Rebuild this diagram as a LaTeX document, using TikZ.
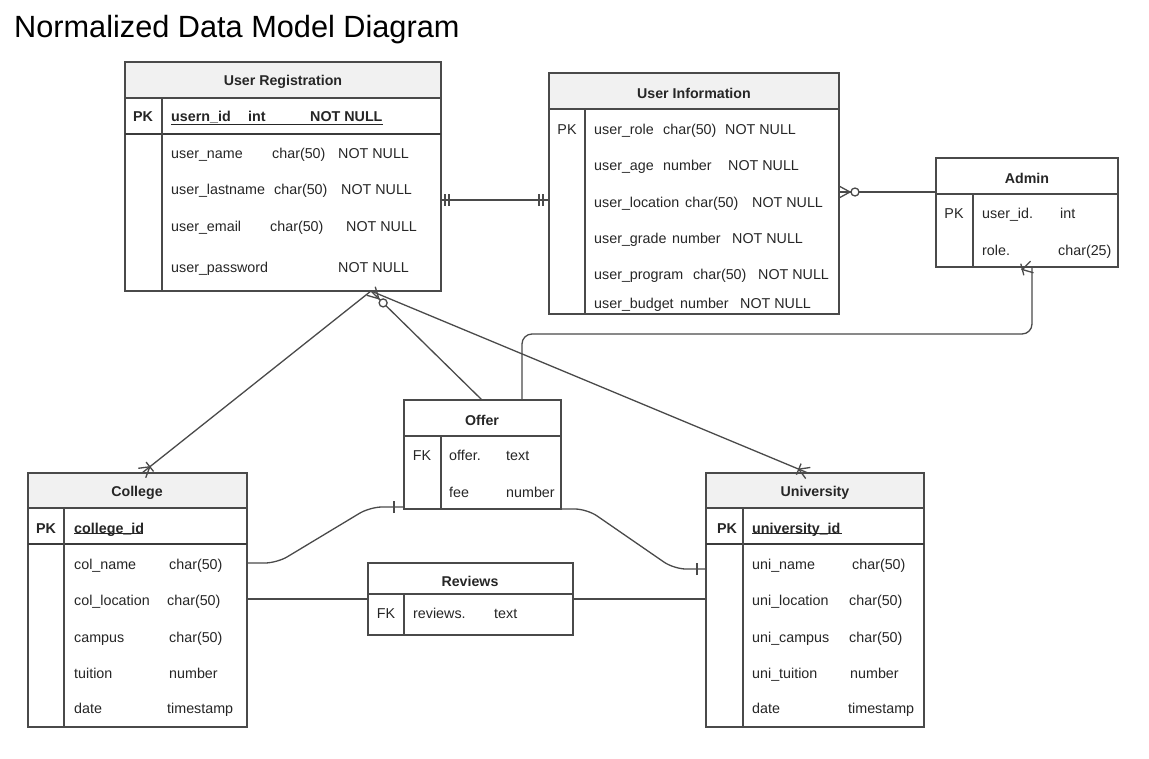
\documentclass[tikz,border=0pt]{standalone}
\usepackage{fontspec}
\setmainfont{Liberation Sans}
\usetikzlibrary{calc}
\definecolor{ln}{HTML}{4A4A4A}
\definecolor{hd}{HTML}{F1F1F1}
\definecolor{tx}{HTML}{262626}
\tikzset{
 tline/.style={draw=ln, line width=1.2pt},
 pkline/.style={draw=ln!80!black, line width=1.8pt},
 box/.style={draw=ln, line width=1.3pt, anchor=north west, inner sep=0pt, outer sep=0pt},
 conn/.style={draw=ln, line width=1.3pt},
 fld/.style={anchor=mid west, inner sep=0pt, yshift=-2.5pt, text=tx, font=\fontsize{14.3}{16}\selectfont},
 fldb/.style={fld, font=\fontsize{14.3}{16}\selectfont\bfseries},
 pkc/.style={anchor=mid, inner sep=0pt, yshift=-2.5pt, text=tx, font=\fontsize{14.3}{16}\selectfont},
 pkcb/.style={pkc, font=\fontsize{14.3}{16}\selectfont\bfseries},
 ttl/.style={inner sep=0pt, yshift=-2pt, text=tx, font=\fontsize{14.2}{16}\selectfont\bfseries},
 uline/.style={draw=tx, line width=0.8pt},
}
\newcommand{\crowm}[3]{%
 \coordinate (cfP) at ($(#1)!#3!(#2)$);
 \draw[conn] ($(#1)!6pt!90:(#2)$) -- (cfP) -- ($(#1)!6pt!-90:(#2)$);
}
\newcommand{\barm}[3]{%
 \coordinate (bmP) at ($(#1)!#3!(#2)$);
 \draw[conn] ($(bmP)!6pt!90:(#2)$) -- ($(bmP)!6pt!-90:(#2)$);
}
\newcommand{\circm}[3]{\draw[conn, fill=white] ($(#1)!#3!(#2)$) circle (4pt);}
\begin{document}
\begin{tikzpicture}[x=1pt,y=-1pt]
\fill[white] (0,0) rectangle (1149,758);
\useasboundingbox (0,0) rectangle (1149,758);

\node[anchor=base west, inner sep=0pt, font=\fontsize{30.7}{34}\selectfont] (title) at (14,37) {Normalized Data Model Diagram};

% ---------- User Registration ----------
\fill[hd] (125,62) rectangle (441,98);
\node[box, minimum width=316pt, minimum height=229pt] (ur) at (125,62) {};
\draw[tline] (125,98) -- (441,98);
\draw[pkline] (125,134) -- (441,134);
\draw[tline] (162,98) -- (162,291);
\node[ttl] (ur-h) at (283,80) {User Registration};
\node[pkcb] (ur-pk) at (143,116) {PK};
\node[fldb] (ur-k1) at (171,116) {usern\_id};
\node[fldb] (ur-k2) at (248,116) {int};
\node[fldb] (ur-k3) at (310,116) {NOT NULL};
\draw[uline] (171,124) -- (383,124);
\node[fld] (ur-a1) at (171,153) {user\_name};
\node[fld] (ur-a2) at (272,153) {char(50)};
\node[fld] (ur-a3) at (338,153) {NOT NULL};
\node[fld] (ur-b1) at (171,189) {user\_lastname};
\node[fld] (ur-b2) at (274,189) {char(50)};
\node[fld] (ur-b3) at (341,189) {NOT NULL};
\node[fld] (ur-c1) at (171,226) {user\_email};
\node[fld] (ur-c2) at (270,226) {char(50)};
\node[fld] (ur-c3) at (346,226) {NOT NULL};
\node[fld] (ur-d1) at (171,267) {user\_password};
\node[fld] (ur-d3) at (338,267) {NOT NULL};

% ---------- User Information ----------
\fill[hd] (549,73) rectangle (839,109);
\node[box, minimum width=290pt, minimum height=241pt] (ui) at (549,73) {};
\draw[tline] (549,109) -- (839,109);
\draw[tline] (585,109) -- (585,314);
\node[ttl] (ui-h) at (694,91) {User Information};
\node[pkc] (ui-pk) at (567,129) {PK};
\node[fld] (ui-a1) at (594,129) {user\_role};
\node[fld] (ui-a2) at (663,129) {char(50)};
\node[fld] (ui-a3) at (725,129) {NOT NULL};
\node[fld] (ui-b1) at (594,165) {user\_age};
\node[fld] (ui-b2) at (663,165) {number};
\node[fld] (ui-b3) at (728,165) {NOT NULL};
\node[fld] (ui-c1) at (594,202) {user\_location};
\node[fld] (ui-c2) at (685,202) {char(50)};
\node[fld] (ui-c3) at (752,202) {NOT NULL};
\node[fld] (ui-d1) at (594,238) {user\_grade};
\node[fld] (ui-d2) at (672,238) {number};
\node[fld] (ui-d3) at (732,238) {NOT NULL};
\node[fld] (ui-e1) at (594,274) {user\_program};
\node[fld] (ui-e2) at (693,274) {char(50)};
\node[fld] (ui-e3) at (758,274) {NOT NULL};
\node[fld] (ui-f1) at (594,303) {user\_budget};
\node[fld] (ui-f2) at (680,303) {number};
\node[fld] (ui-f3) at (740,303) {NOT NULL};

% ---------- Admin ----------
\node[box, minimum width=182pt, minimum height=109pt] (adm) at (936,158) {};
\draw[tline] (936,194) -- (1118,194);
\draw[tline] (973,194) -- (973,267);
\node[ttl] (adm-h) at (1027,176) {Admin};
\node[pkc] (adm-pk) at (954,213) {PK};
\node[fld] (adm-a1) at (982,213) {user\_id.};
\node[fld] (adm-a2) at (1060,213) {int};
\node[fld] (adm-b1) at (982,250) {role.};
\node[fld] (adm-b2) at (1058,250) {char(25)};

% ---------- Offer ----------
\node[box, minimum width=157pt, minimum height=109pt] (off) at (404,400) {};
\draw[tline] (404,436) -- (561,436);
\draw[tline] (441,436) -- (441,509);
\node[ttl] (off-h) at (482,418) {Offer};
\node[pkc] (off-fk) at (422,455) {FK};
\node[fld] (off-a1) at (449,455) {offer.};
\node[fld] (off-a2) at (506,455) {text};
\node[fld] (off-b1) at (449,492) {fee};
\node[fld] (off-b2) at (506,492) {number};

% ---------- Reviews ----------
\node[box, minimum width=205pt, minimum height=72pt] (rev) at (368,563) {};
\draw[tline] (368,594) -- (573,594);
\draw[tline] (404,594) -- (404,635);
\node[ttl] (rev-h) at (470,579) {Reviews};
\node[pkc] (rev-fk) at (386,613) {FK};
\node[fld] (rev-a1) at (413,613) {reviews.};
\node[fld] (rev-a2) at (494,613) {text};

% ---------- College ----------
\fill[hd] (28,473) rectangle (247,508);
\node[box, minimum width=219pt, minimum height=254pt] (col) at (28,473) {};
\draw[tline] (28,508) -- (247,508);
\draw[pkline] (28,544) -- (247,544);
\draw[tline] (64,508) -- (64,727);
\node[ttl] (col-h) at (137,491) {College};
\node[pkcb] (col-pk) at (46,528) {PK};
\node[fldb] (col-k) at (74,528) {college\_id};
\draw[uline] (74,533) -- (143,533);
\node[fld] (col-a1) at (74,564) {col\_name};
\node[fld] (col-a2) at (169,564) {char(50)};
\node[fld] (col-b1) at (74,600) {col\_location};
\node[fld] (col-b2) at (167,600) {char(50)};
\node[fld] (col-c1) at (74,637) {campus};
\node[fld] (col-c2) at (169,637) {char(50)};
\node[fld] (col-d1) at (74,673) {tuition};
\node[fld] (col-d2) at (169,673) {number};
\node[fld] (col-e1) at (74,708) {date};
\node[fld] (col-e2) at (167,708) {timestamp};

% ---------- University ----------
\fill[hd] (706,473) rectangle (924,508);
\node[box, minimum width=218pt, minimum height=254pt] (uni) at (706,473) {};
\draw[tline] (706,508) -- (924,508);
\draw[pkline] (706,544) -- (924,544);
\draw[tline] (743,508) -- (743,727);
\node[ttl] (uni-h) at (815,491) {University};
\node[pkcb] (uni-pk) at (727,528) {PK};
\node[fldb] (uni-k) at (752,528) {university\_id};
\draw[uline] (752,533) -- (842,533);
\node[fld] (uni-a1) at (752,564) {uni\_name};
\node[fld] (uni-a2) at (852,564) {char(50)};
\node[fld] (uni-b1) at (752,600) {uni\_location};
\node[fld] (uni-b2) at (849,600) {char(50)};
\node[fld] (uni-c1) at (752,637) {uni\_campus};
\node[fld] (uni-c2) at (849,637) {char(50)};
\node[fld] (uni-d1) at (752,673) {uni\_tuition};
\node[fld] (uni-d2) at (850,673) {number};
\node[fld] (uni-e1) at (752,708) {date};
\node[fld] (uni-e2) at (848,708) {timestamp};

% ---------- connector end points ----------
\coordinate (urR) at (441,200);
\coordinate (uiL) at (549,200);
\coordinate (uiR) at (839,192);
\coordinate (admL) at (936,192);
\coordinate (admB) at (1032,267);
\coordinate (bend) at (777,334);
\coordinate (offT2) at (522,400);
\coordinate (urB) at (371,291);
\coordinate (colT) at (142,473);
\coordinate (uniT) at (808,473);
\coordinate (offT) at (482,400);
\coordinate (colR1) at (247,563);
\coordinate (offL) at (404,507);
\coordinate (offR) at (561,509);
\coordinate (uniL1) at (706,569);
\coordinate (colR2) at (247,599);
\coordinate (revL) at (368,599);
\coordinate (revR) at (573,599);
\coordinate (uniL2) at (706,599);
\coordinate (offLfar) at ($(offL)+(-30,0)$);
\coordinate (uniLfar) at ($(uniL1)+(-30,0)$);

% ---------- connectors ----------
\draw[conn] (urR) -- (uiL);
\draw[conn] (uiR) -- (admL);
\draw[conn, rounded corners=10pt] (admB) |- (bend) -| (offT2);
\draw[conn] (urB) -- (colT);
\draw[conn] (urB) -- (uniT);
\draw[conn] (urB) -- (offT);
\draw[conn, rounded corners=12pt] (colR1) -- ($(colR1)+(30,0)$) -- ($(offL)+(-34,0)$) -- (offL);
\draw[conn, rounded corners=12pt] (offR) -- ($(offR)+(26,0)$) -- ($(uniL1)+(-32,0)$) -- (uniL1);
\draw[conn] (colR2) -- (revL);
\draw[conn] (revR) -- (uniL2);

% ---------- end marks ----------
\barm{urR}{uiL}{4pt}
\barm{urR}{uiL}{8pt}
\barm{uiL}{urR}{6pt}
\barm{uiL}{urR}{10pt}
\crowm{uiR}{admL}{11pt}
\circm{uiR}{admL}{16pt}
\crowm{admB}{bend}{10pt}
\barm{admB}{offT2}{10pt}
\crowm{colT}{urB}{10pt}
\barm{colT}{urB}{10pt}
\crowm{uniT}{urB}{10pt}
\barm{uniT}{urB}{10pt}
\crowm{urB}{offT}{11pt}
\circm{urB}{offT}{17pt}
\barm{offL}{offLfar}{10pt}
\barm{uniL1}{uniLfar}{9pt}
\end{tikzpicture}
\end{document}
